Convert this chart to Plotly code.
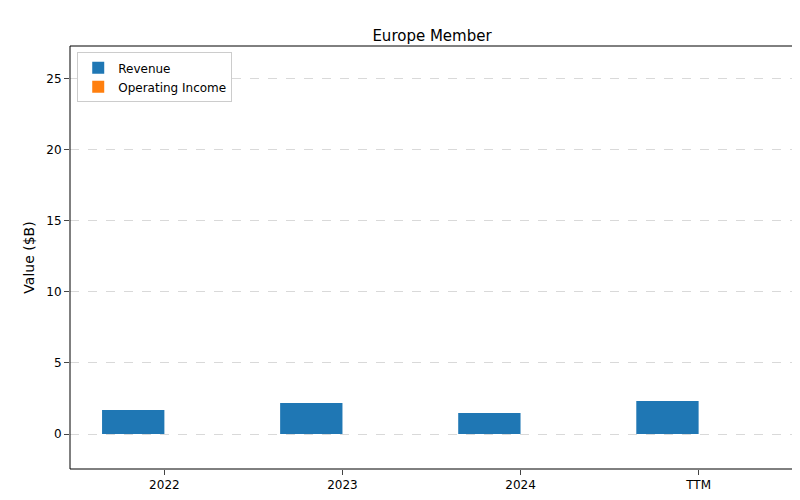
import plotly.graph_objects as go

years = ["2022", "2023", "2024", "TTM"]
revenue = [1.69, 2.18, 1.48, 2.32]
operating_income = [0.0, 0.0, 0.0, 0.0]

width = 0.35
xs = list(range(len(years)))

fig = go.Figure()
fig.add_trace(go.Bar(
    x=[x - width / 2 for x in xs], y=revenue, width=width,
    name="Revenue", marker=dict(color="#1f77b4", line=dict(width=0)),
))
fig.add_trace(go.Bar(
    x=[x + width / 2 for x in xs], y=operating_income, width=width,
    name="Operating Income", marker=dict(color="#ff7f0e", line=dict(width=0)),
))

fig.update_layout(
    width=800, height=500,
    margin=dict(l=62, r=15, t=38, b=39, autoexpand=False),
    paper_bgcolor="white", plot_bgcolor="white",
    font=dict(family="DejaVu Sans", size=12, color="black"),
    title=dict(text="Europe Member", x=0.53, xanchor="center", y=0.955, font=dict(size=15)),
    barmode="overlay",
    showlegend=True,
    legend=dict(x=0.01, y=0.985, xanchor="left", yanchor="top",
                bordercolor="#cccccc", borderwidth=1, bgcolor="white",
                font=dict(size=12), tracegroupgap=0),
    shapes=[dict(type="rect", xref="paper", yref="paper", x0=0, y0=0, x1=1, y1=1,
                 line=dict(color="black", width=1), layer="above")],
)
fig.update_xaxes(
    range=[-0.53, 3.53], tickmode="array", tickvals=xs, ticktext=years,
    showline=False, ticks="outside", automargin=False,
    showgrid=False, zeroline=False,
)
fig.update_yaxes(
    range=[-2.46, 27.3], tickvals=[0, 5, 10, 15, 20, 25],
    title=dict(text="Value ($B)", standoff=8), automargin=False,
    showline=False, ticks="outside",
    showgrid=True, gridcolor="#d9d9d9", griddash="dash", zeroline=False,
)

fig.write_html("out.html")
